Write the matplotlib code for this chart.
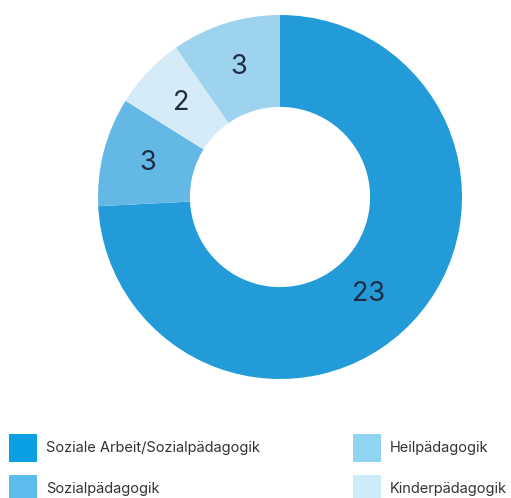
import matplotlib
matplotlib.use("Agg")
import matplotlib.pyplot as plt
from matplotlib.patches import Rectangle

categories = ["Soziale Arbeit/Sozialpädagogik", "Sozialpädagogik", "Kinderpädagogik", "Heilpädagogik"]
values = [23, 3, 2, 3]
slice_colors = ["#229bd8", "#63b8e5", "#d5ebf7", "#9dd3ee"]
legend_colors = ["#0b9fe3", "#5cbcec", "#cdebf9", "#8fd4f3"]
legend_order = [0, 1, 3, 2]

W, H = 511, 498
fig = plt.figure(figsize=(W / 100, H / 100), dpi=100)
cx, cy, r = 280, 197, 182
ax = fig.add_axes([(cx - r) / W, (H - cy - r) / H, 2 * r / W, 2 * r / H])
wedges, texts, autotexts = ax.pie(
    values, colors=slice_colors, startangle=90, counterclock=False,
    radius=1.0, wedgeprops=dict(width=0.505, edgecolor="none"),
    autopct=lambda p: f"{round(p * sum(values) / 100):d}", pctdistance=0.75,
    textprops=dict(color="#1f2a44", fontsize=19.5, fontweight="normal",
                   family=["Inter", "DejaVu Sans"]))
autotexts[0].set_position((0.489, -0.533))
ax.set_xlim(-1, 1)
ax.set_ylim(-1, 1)
ax.set_aspect("auto")
ax.axis("off")

# legend
positions = [(9, 434), (9, 475), (353, 434), (353, 475)]
for (px, py), idx in zip(positions, legend_order):
    fig.add_artist(Rectangle((px / W, (H - py - 28) / H), 28 / W, 28 / H,
                             transform=fig.transFigure, color=legend_colors[idx], lw=0))
    fig.text((px + 37) / W, (H - py - 14) / H, categories[idx], va="center", ha="left",
             fontsize=10.5, fontweight="normal", color="#333333",
             family=["Inter", "DejaVu Sans"])

fig.savefig("out.png", dpi=100)
